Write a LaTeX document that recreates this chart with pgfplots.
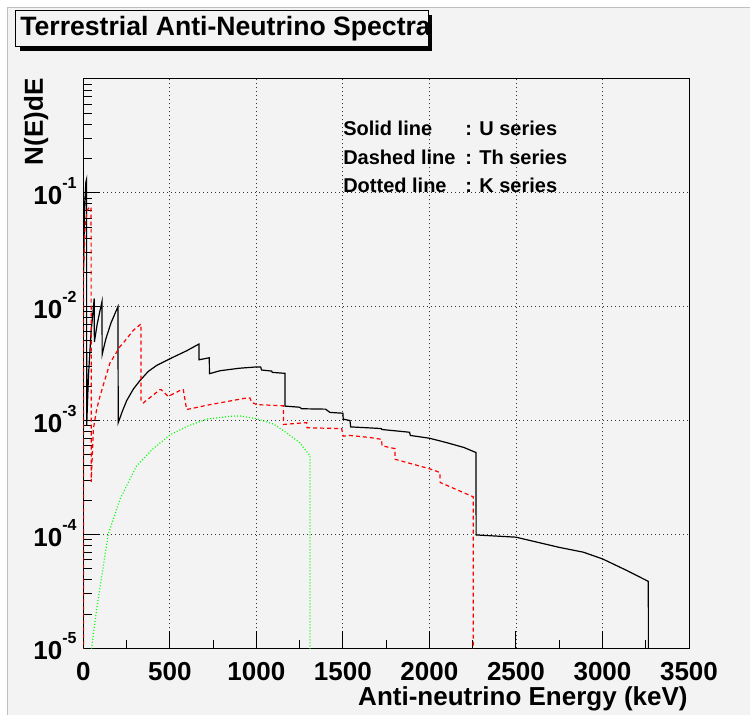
\documentclass[border=0pt]{standalone}
\usepackage{fontspec}
\setmainfont{Liberation Sans}
\usepackage{pgfplots}
\pgfplotsset{compat=1.18}
\definecolor{rootbg}{RGB}{243,243,243}
\newcommand{\ex}[1]{10\raisebox{0.62em}{\fontsize{8}{8}\selectfont #1}}

\begin{document}
\begin{tikzpicture}
\fill[white] (-41.65pt,-33.35pt) rectangle (333.35pt,324.15pt);
\fill[rootbg] (-37.65pt,-33.35pt) rectangle (333.35pt,320.15pt);
\draw[black!25, line width=0.5pt] (-37.65pt,-33.35pt) -- (-37.65pt,320.15pt) -- (333.35pt,320.15pt);
\begin{axis}[
  at={(0pt,0pt)}, anchor=south west,
  scale only axis,
  width=302.85pt, height=284.65pt,
  xmin=0, xmax=3500,
  ymode=log, ymin=1e-5, ymax=1,
  axis background/.style={fill=rootbg},
  axis line style={black, line width=0.5pt},
  tick align=inside, tick pos=left,
  major tick length=8.5pt, minor tick length=4.2pt,
  every tick/.style={black, line width=0.5pt},
  xtick={0,500,1000,1500,2000,2500,3000,3500},
  xticklabels={0,500,1000,1500,2000,2500,3000,3500},
  minor xtick={250,750,1250,1750,2250,2750,3250},
  ytick={1e-5,1e-4,1e-3,1e-2,1e-1},
  yticklabels={\ex{-5},\ex{-4},\ex{-3},\ex{-2},\ex{-1}},
  minor ytick={2e-5,3e-5,4e-5,5e-5,6e-5,7e-5,8e-5,9e-5,
    2e-4,3e-4,4e-4,5e-4,6e-4,7e-4,8e-4,9e-4,
    2e-3,3e-3,4e-3,5e-3,6e-3,7e-3,8e-3,9e-3,
    2e-2,3e-2,4e-2,5e-2,6e-2,7e-2,8e-2,9e-2,
    0.2,0.3,0.4,0.5,0.6,0.7,0.8,0.9},
  xticklabel style={font=\bfseries\fontsize{13}{13}\selectfont, anchor=base, inner sep=0pt, yshift=-16.1pt},
  yticklabel style={font=\bfseries\fontsize{13}{13}\selectfont, anchor=base east, inner sep=0pt, xshift=-3.15pt, yshift=-5.85pt},
  grid=major,
  major grid style={black!80, line width=0.4pt, dash pattern=on 0.5pt off 1.5pt},
  clip=true,
]
% U series
\addplot[black, line width=0.6pt] coordinates {
 (1,0.02) (8,0.08) (15,0.125) (19,0.132) (19.5,0.0009) (30,0.0025) (45,0.006) (63,0.0118)
 (64,0.0049) (80,0.007) (95,0.009) (108,0.0111) (109,0.0038) (130,0.0052) (160,0.0072) (200,0.0100)
 (202,0.00096) (225,0.0012) (251,0.0015) (290,0.0019) (328,0.00225) (375,0.0027) (424,0.00305)
 (502,0.0035) (597,0.0041) (668,0.0047) (669,0.00342) (728,0.00356) (729,0.00258) (790,0.00274)
 (900,0.00288) (1002,0.00296) (1025,0.00295) (1030,0.00278) (1089,0.00272) (1092,0.00265)
 (1165,0.0026) (1166,0.00134) (1250,0.00131) (1262,0.00127) (1400,0.00126) (1425,0.00118)
 (1500,0.00116) (1502,0.00103) (1541,0.00100) (1545,0.00088) (1700,0.000855) (1722,0.00085)
 (1725,0.000835) (1885,0.00079) (1890,0.00074) (2000,0.00070) (2100,0.00064) (2200,0.00058)
 (2269,0.000524) (2270,9.9e-5) (2500,9.46e-5) (2750,7.7e-5) (2890,6.98e-5) (3000,6.1e-5)
 (3140,4.83e-5) (3265,3.87e-5) (3266,1e-7)
};
% Th series
\addplot[red, line width=0.6pt, dash pattern=on 2pt off 1.5pt] coordinates {
 (0.5,1e-7) (1,0.02) (10,0.05) (22,0.07) (35,0.075) (45,0.075) (46,0.00029) (58,0.00084)
 (77,0.00125) (96,0.00163) (125,0.00229) (154,0.0032) (212,0.00447) (231,0.0048) (289,0.0062)
 (333,0.00706) (334,0.00148) (347,0.00143) (443,0.00187) (450,0.00187) (491,0.00163)
 (568,0.00187) (578,0.00187) (597,0.00125) (732,0.00138) (944,0.00158) (963,0.00158)
 (973,0.00145) (1002,0.00138) (1156,0.00135) (1157,0.000925) (1291,0.00096) (1293,0.000865)
 (1493,0.00085) (1502,0.00073) (1541,0.00074) (1656,0.00071) (1724,0.000684) (1726,0.0006)
 (1801,0.000567) (1802,0.000457) (1994,0.00038) (2061,0.00035) (2062,0.000286) (2253,0.000214)
 (2254,1e-7)
};
% K series
\addplot[green, line width=0.6pt, dash pattern=on 0.5pt off 1pt] coordinates {
 (30,4e-6) (48,1e-5) (77,2.2e-5) (116,5.3e-5) (144,1e-4) (212,2.04e-4) (308,4e-4) (400,5.6e-4)
 (501,7.5e-4) (600,8.9e-4) (713,1.03e-3) (848,1.09e-3) (905,1.1e-3) (1002,1.04e-3) (1100,9.3e-4)
 (1175,7.8e-4) (1250,6.4e-4) (1310,4.9e-4) (1311,1e-7)
};
\node[anchor=base west, inner sep=0pt, font=\bfseries\fontsize{10}{10}\selectfont] at (axis cs:1500,0.316) {Solid line};
\node[anchor=base west, inner sep=0pt, font=\bfseries\fontsize{10}{10}\selectfont] at (axis cs:2205,0.316) {: U series};
\node[anchor=base west, inner sep=0pt, font=\bfseries\fontsize{10}{10}\selectfont] at (axis cs:1500,0.178) {Dashed line};
\node[anchor=base west, inner sep=0pt, font=\bfseries\fontsize{10}{10}\selectfont] at (axis cs:2205,0.178) {: Th series};
\node[anchor=base west, inner sep=0pt, font=\bfseries\fontsize{10}{10}\selectfont] at (axis cs:1500,0.1) {Dotted line};
\node[anchor=base west, inner sep=0pt, font=\bfseries\fontsize{10}{10}\selectfont] at (axis cs:2205,0.1) {: K series};
\end{axis}
% title box
\fill[black] (-31.8pt,298.65pt) rectangle (174.35pt,316.65pt);
\filldraw[fill=rootbg, draw=black, line width=0.5pt] (-33.8pt,300.65pt) rectangle (172.35pt,318.65pt);
\node[anchor=base west, inner sep=0pt, font=\bfseries\fontsize{13.3}{13.3}\selectfont] at (-31.65pt,306.3pt) {Terrestrial Anti-Neutrino Spectra};
% axis titles
\node[rotate=90, anchor=base east, inner sep=0pt, font=\bfseries\fontsize{13}{13}\selectfont] at (-20.15pt,285.15pt) {N(E)dE};
\node[anchor=base east, inner sep=0pt, font=\bfseries\fontsize{13}{13}\selectfont] at (302.35pt,-28.6pt) {Anti-neutrino Energy (keV)};
\pgfresetboundingbox
\path[use as bounding box] (-41.65pt,-33.35pt) rectangle (333.35pt,324.15pt);
\end{tikzpicture}
\end{document}
